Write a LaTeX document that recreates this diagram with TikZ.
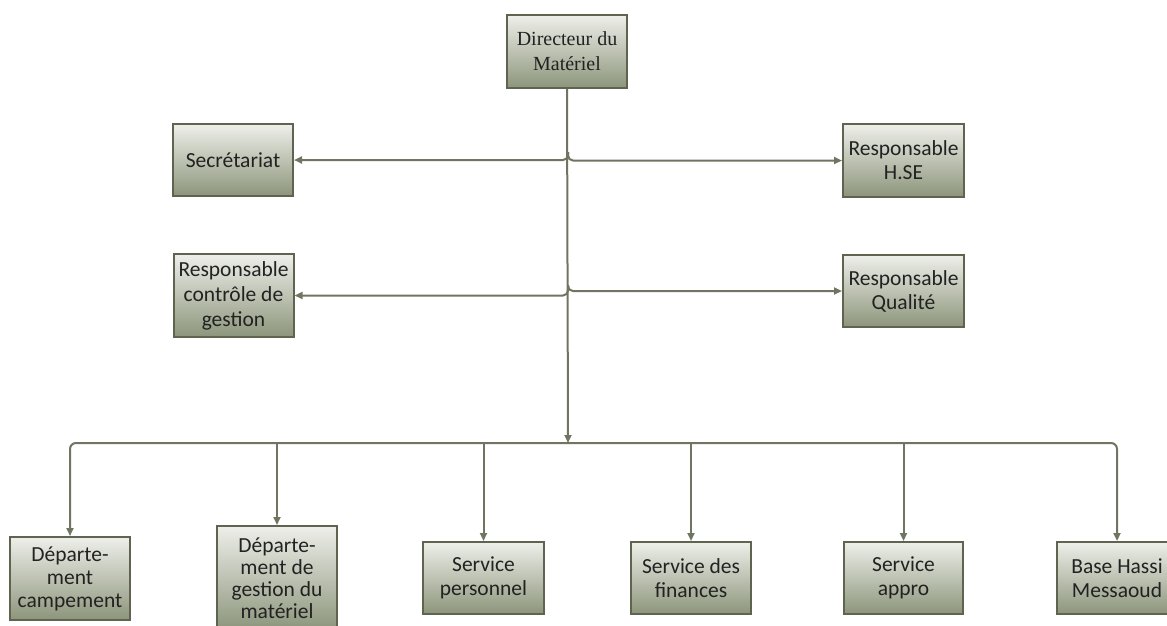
\documentclass[tikz,border=0pt]{standalone}
\usepackage{fontspec}
\setmainfont{Carlito}
\newfontfamily\dirfont{Liberation Serif}
\usetikzlibrary{arrows.meta}
\definecolor{wirecol}{HTML}{6F7560}
\definecolor{edgecol}{HTML}{5E6450}
\definecolor{boxtop}{HTML}{EEEFEA}
\definecolor{boxbot}{HTML}{8C957B}
\definecolor{txtcol}{HTML}{222222}
\tikzset{
  orgbox/.style={draw=edgecol, line width=2pt, top color=boxtop, bottom color=boxbot,
    minimum width=120pt, minimum height=72pt, inner sep=0pt, align=center,
    text=txtcol, font=\fontsize{21.5}{24}\selectfont},
  wire/.style={draw=wirecol, line width=2pt},
  tip/.style={-{Triangle[length=8pt,width=7pt]}},
}
\begin{document}
\begin{tikzpicture}[x=1pt,y=-1pt]
\useasboundingbox (0,0) rectangle (1167,625);

% top of the hierarchy
\node[orgbox, minimum height=73pt, font=\dirfont\fontsize{20}{25}\selectfont] (dir) at (567,51.5) {Directeur du\\Matériel};

% staff positions
\node[orgbox] (sec) at (233,160) {Secrétariat};
\node[orgbox, minimum height=83pt, font=\fontsize{21.5}{25}\selectfont] (rcg) at (233.5,295.5) {Responsable\\contrôle de\\gestion};
\node[orgbox, minimum width=121pt, minimum height=73pt] (hse) at (903.5,160.5) {Responsable\\H.SE};
\node[orgbox, minimum width=121pt] (qual) at (903.5,291) {Responsable\\Qualité};

% operational units
\node[orgbox, minimum height=83pt, font=\fontsize{21.5}{23}\selectfont] (camp) at (70,578.5) {Départe-\\ment\\campement};
\node[orgbox, minimum height=104pt, font=\fontsize{21.5}{22}\selectfont] (gmat) at (277,578) {Départe-\\ment de\\gestion du\\matériel};
\node[orgbox, minimum width=121pt] (pers) at (483.5,578) {Service\\personnel};
\node[orgbox] (fin) at (691,578) {Service des\\finances};
\node[orgbox, minimum width=119pt] (appro) at (903.5,578) {Service\\appro};
\node[orgbox] (base) at (1117,578) {Base Hassi\\Messaoud};

% trunk and its junctions
\coordinate (bus) at (568,443);
\coordinate (j1) at (568,152);
\coordinate (j2) at (568,285);
\draw[wire, tip] (dir.south) -- (bus);

\draw[wire, tip, rounded corners=5pt] (j1) |- (sec.east);
\draw[wire, tip, rounded corners=5pt] (j1) |- (hse.west);
\draw[wire, tip, rounded corners=5pt] (j2) |- (rcg.east);
\draw[wire, tip, rounded corners=5pt] (j2) |- (qual.west);

% distribution bus to the units
\draw[wire, {Triangle[length=8pt,width=7pt]}-{Triangle[length=8pt,width=7pt]}, rounded corners=6pt]
  (camp.north) |- (bus) -| (base.north);
\draw[wire, tip] (gmat.north |- bus) -- (gmat.north);
\draw[wire, tip] (pers.north |- bus) -- (pers.north);
\draw[wire, tip] (fin.north |- bus) -- (fin.north);
\draw[wire, tip] (appro.north |- bus) -- (appro.north);
\end{tikzpicture}
\end{document}
